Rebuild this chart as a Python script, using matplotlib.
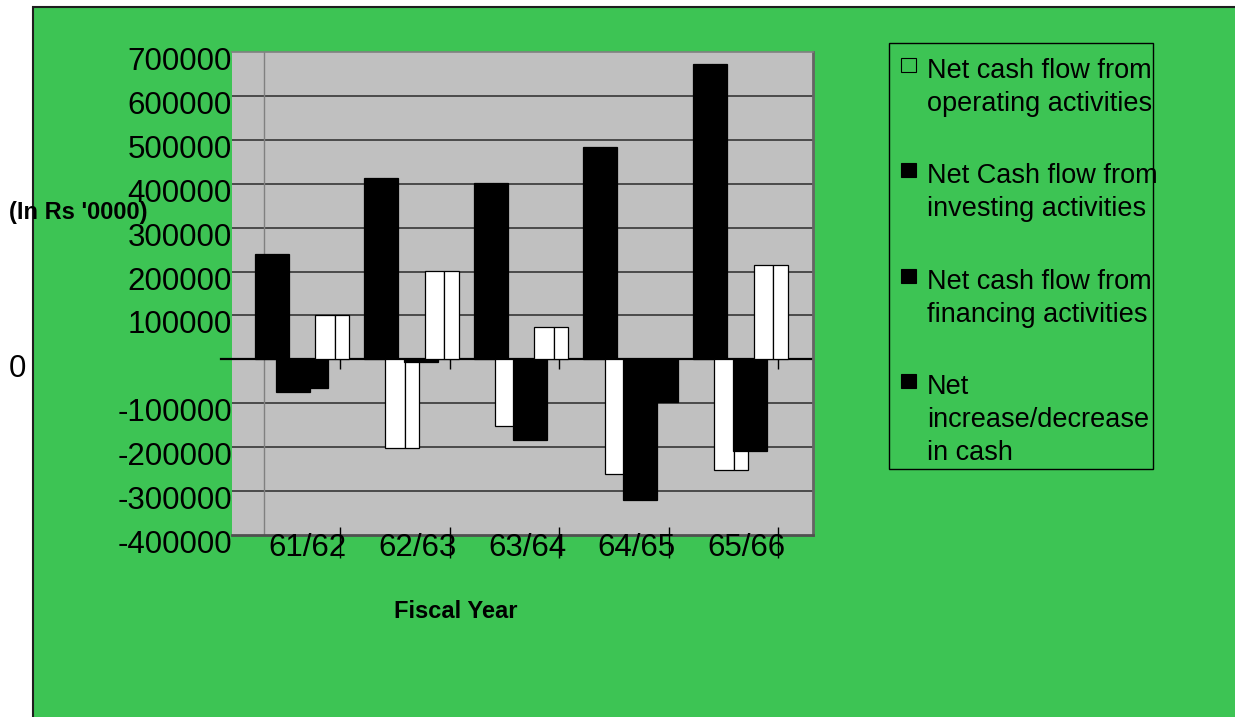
import numpy as np
import matplotlib.pyplot as plt
from matplotlib.patches import Rectangle
from matplotlib.transforms import offset_copy

plt.rcParams['font.family'] = ['Liberation Sans', 'DejaVu Sans']

# cash flow figures (In Rs '0000)
years = ['61/62', '62/63', '63/64', '64/65', '65/66']
operating = [241000, 413000, 401000, 483000, 673000]
investing = [-74500, -203000, -151000, -260000, -251000]
financing = [-65000, -5000, -183000, -320000, -208000]
net_change = [101000, 202000, 73000, -97000, 215000]

legend_labels = ['Net cash flow from\noperating activities',
                 'Net Cash flow from\ninvesting activities',
                 'Net cash flow from\nfinancing activities',
                 'Net\nincrease/decrease\nin cash']
y_ticks = [700000, 600000, 500000, 400000, 300000, 200000, 100000, 0,
           -100000, -200000, -300000, -400000]

# bar fills per year, the way the old workbook rendered them
operating_fill = ['black'] * 5
investing_fill = ['black', 'white', 'white', 'white', 'white']
financing_fill = ['black'] * 5
net_fill = ['white', 'white', 'white', 'black', 'white']
legend_fill = ['none', 'black', 'black', 'black']

W, H = 1235, 717
fig = plt.figure(figsize=(W / 100, H / 100), dpi=100)
fig.patch.set_facecolor('white')


def fx(px):
    return px / W


def fy(py):
    return 1 - py / H


# green chart area with dark frame
fig.add_artist(Rectangle((fx(33), -0.05), 1.1, fy(7) + 0.05, transform=fig.transFigure,
                         facecolor='#3DC454', edgecolor='#1e1e1e', lw=1.5, zorder=0))

ax = fig.add_axes([fx(232), fy(535), fx(813) - fx(232), fy(52) - fy(535)])
ax.set_facecolor('#C0C0C0')
ax.set_xlim(0, 581 / 109.6)
ax.set_ylim(-400000, 700000)
ax.set_xticks([])
ax.set_yticks([])
ax.spines['left'].set_visible(False)
ax.spines['top'].set_color('#808080')
ax.spines['top'].set_linewidth(1.2)
ax.spines['right'].set_color('#646464')
ax.spines['right'].set_linewidth(2)
ax.spines['bottom'].set_color('#505050')
ax.spines['bottom'].set_linewidth(2)

for v in y_ticks:
    if v not in (0, 700000, -400000):
        ax.axhline(v, color='#2b2b2b', lw=1.1, zorder=1)
ax.axvline(0.292, color='#808080', lw=1, zorder=1)
ax.plot([-0.019, 1], [0, 0], transform=ax.get_yaxis_transform(), color='black',
        lw=1.6, clip_on=False, zorder=1.5)

groups = np.arange(len(years))
front, side = 0.178, 0.132
series = [operating, investing, financing, net_change]
fills = [operating_fill, investing_fill, financing_fill, net_fill]
offsets = [0.206, 0.40, 0.567, 0.759]
for k, (vals, cols, off) in enumerate(zip(series, fills, offsets)):
    x = groups + off
    ax.bar(x, vals, width=front, align='edge', color=cols, edgecolor='black',
           lw=0.9, zorder=2 + k * 0.1)
    ax.bar(x + front, vals, width=side, align='edge', color=cols, edgecolor='black',
           lw=0.9, zorder=2 + k * 0.1)

# category tick marks
tick_x = groups + 0.985
ax.vlines(tick_x, -22800, 0, color='black', lw=1, zorder=3)
ax.vlines(tick_x, -453000, -382000, color='black', lw=1, clip_on=False, zorder=3)

# axis labels
ytrans = offset_copy(ax.get_yaxis_transform(), fig=fig, x=0, y=-10, units='dots')
for v in y_ticks:
    if v == 0:
        ax.text(-0.370, v, '0', transform=ytrans, ha='center', va='center', fontsize=22.5)
    else:
        ax.text(0, v, str(v), transform=ytrans, ha='right', va='center', fontsize=22.5)
for k, yr in enumerate(years):
    ax.text(k + 0.693, -430000, yr, ha='center', va='center', fontsize=22.5)

fig.text(fx(456), fy(611), 'Fiscal Year', fontsize=17, fontweight='bold',
         ha='center', va='center')
fig.text(fx(9), fy(213), "(In Rs '0000)", fontsize=17, fontweight='bold',
         ha='left', va='center')

# legend box
fig.add_artist(Rectangle((fx(889), fy(469)), fx(1153) - fx(889), fy(43) - fy(469),
                         transform=fig.transFigure, fill=False, edgecolor='black', lw=1))
for i, (label, col) in enumerate(zip(legend_labels, legend_fill)):
    top = 58 + 105.3 * i
    fig.add_artist(Rectangle((fx(901), fy(top + 14)), fx(15), 14 / H,
                             transform=fig.transFigure, facecolor=col,
                             edgecolor='black', lw=0.8))
    for j, line in enumerate(label.split('\n')):
        fig.text(fx(927), fy(78 + 105.3 * i + 33 * j), line, fontsize=19.5, va='baseline')

fig.savefig('out.png', dpi=100)
